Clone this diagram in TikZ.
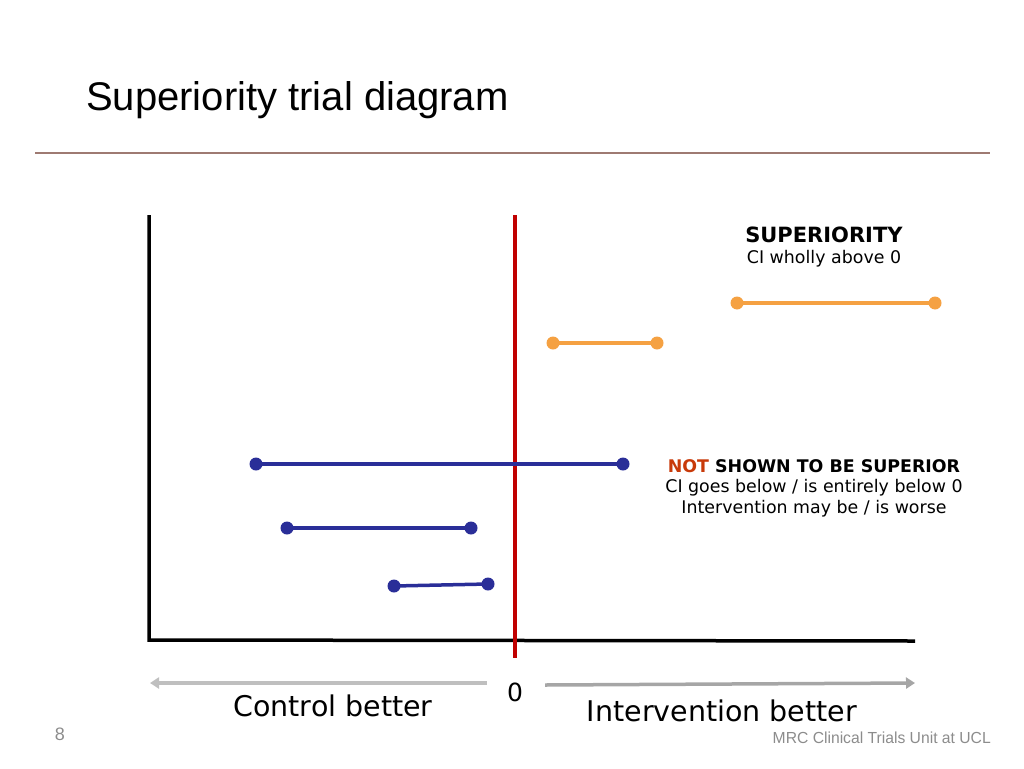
\documentclass[tikz,border=0pt]{standalone}
\usepackage{fontspec}
\setmainfont{Liberation Sans}
\newfontfamily\verd{DejaVu Sans}
\usetikzlibrary{arrows.meta}
\definecolor{rulebrown}{HTML}{9E7A72}
\definecolor{zred}{HTML}{C00000}
\definecolor{ciorange}{HTML}{F5A142}
\definecolor{ciblue}{HTML}{2A2E98}
\definecolor{notred}{HTML}{C83A0A}
\definecolor{lgray}{HTML}{BFBFBF}
\definecolor{mgray}{HTML}{A6A6A6}
\definecolor{ftgray}{HTML}{8C8C8C}
\tikzset{
  ci/.style={line width=3.5pt},
  cidot/.style={circle, inner sep=0pt, minimum size=13pt, fill=#1},
  axis/.style={line width=3.5pt, black},
  dirarrow/.style={line width=3.5pt, -{Triangle[length=9pt,width=11pt]}},
  lbl/.style={font=\verd\fontsize{17.4}{20.5}\selectfont, align=center, inner sep=0pt},
}
\begin{document}
\begin{tikzpicture}[x=1pt,y=-1pt]
\useasboundingbox (0,0) rectangle (1024,768);
\node[anchor=west, inner sep=0pt, font=\fontsize{40}{44}\selectfont] (title) at (86,100) {Superiority trial diagram};
\coordinate (rl) at (35,153); \coordinate (rr) at (990,153);
\draw[rulebrown, line width=2.5pt] (rl) -- (rr);

% axes
\coordinate (ytop) at (149,215); \coordinate (orig) at (149,640); \coordinate (xend) at (915,641);
\draw[axis] (ytop) -- (orig) -- (xend);
\coordinate (zt) at (515,215); \coordinate (zb) at (515,658);
\draw[zred, line width=4.5pt] (zt) -- (zb);

% orange CIs
\node[cidot=ciorange] (o1a) at (737,303) {};
\node[cidot=ciorange] (o1b) at (935,303) {};
\node[cidot=ciorange] (o2a) at (553,343) {};
\node[cidot=ciorange] (o2b) at (657,343) {};
\draw[ci, ciorange] (o1a.center) -- (o1b.center);
\draw[ci, ciorange] (o2a.center) -- (o2b.center);

% blue CIs
\node[cidot=ciblue] (b1a) at (256,464) {};
\node[cidot=ciblue] (b1b) at (623,464) {};
\node[cidot=ciblue] (b2a) at (287,528) {};
\node[cidot=ciblue] (b2b) at (471,528) {};
\node[cidot=ciblue] (b3a) at (394,586) {};
\node[cidot=ciblue] (b3b) at (488,584) {};
\draw[ci, ciblue] (b1a.center) -- (b1b.center);
\draw[ci, ciblue] (b2a.center) -- (b2b.center);
\draw[ci, ciblue] (b3a.center) -- (b3b.center);

% labels
\node[lbl] (sup) at (824,247) {{\fontsize{21}{22}\selectfont\textbf{SUPERIORITY}}\\[0pt]CI wholly above 0};
\node[lbl] (notsup) at (814,488) {\textbf{\textcolor{notred}{NOT} SHOWN TO BE SUPERIOR}\\CI goes below / is entirely below 0\\Intervention may be / is worse};

% direction arrows
\coordinate (la) at (487,683); \coordinate (lb) at (150,683);
\coordinate (ra) at (545,685); \coordinate (rb) at (915,683);
\draw[dirarrow, lgray] (la) -- (lb);
\draw[dirarrow, mgray] (ra) -- (rb);
\node[font=\verd\fontsize{25}{28}\selectfont, inner sep=0pt] (zero) at (515,692) {0};
\node[font=\verd\fontsize{28.5}{32}\selectfont, inner sep=0pt] (cb) at (333,706) {Control better};
\node[font=\verd\fontsize{28.5}{32}\selectfont, inner sep=0pt] (ib) at (722,711) {Intervention better};

% footer
\node[font=\fontsize{18}{20}\selectfont, text=ftgray, inner sep=0pt] (pg) at (60,734) {8};
\node[anchor=east, font=\fontsize{16}{18}\selectfont, text=ftgray, inner sep=0pt] (mrc) at (991,738) {\scalebox{0.98}[1]{MRC Clinical Trials Unit at UCL}};
\end{tikzpicture}
\end{document}
